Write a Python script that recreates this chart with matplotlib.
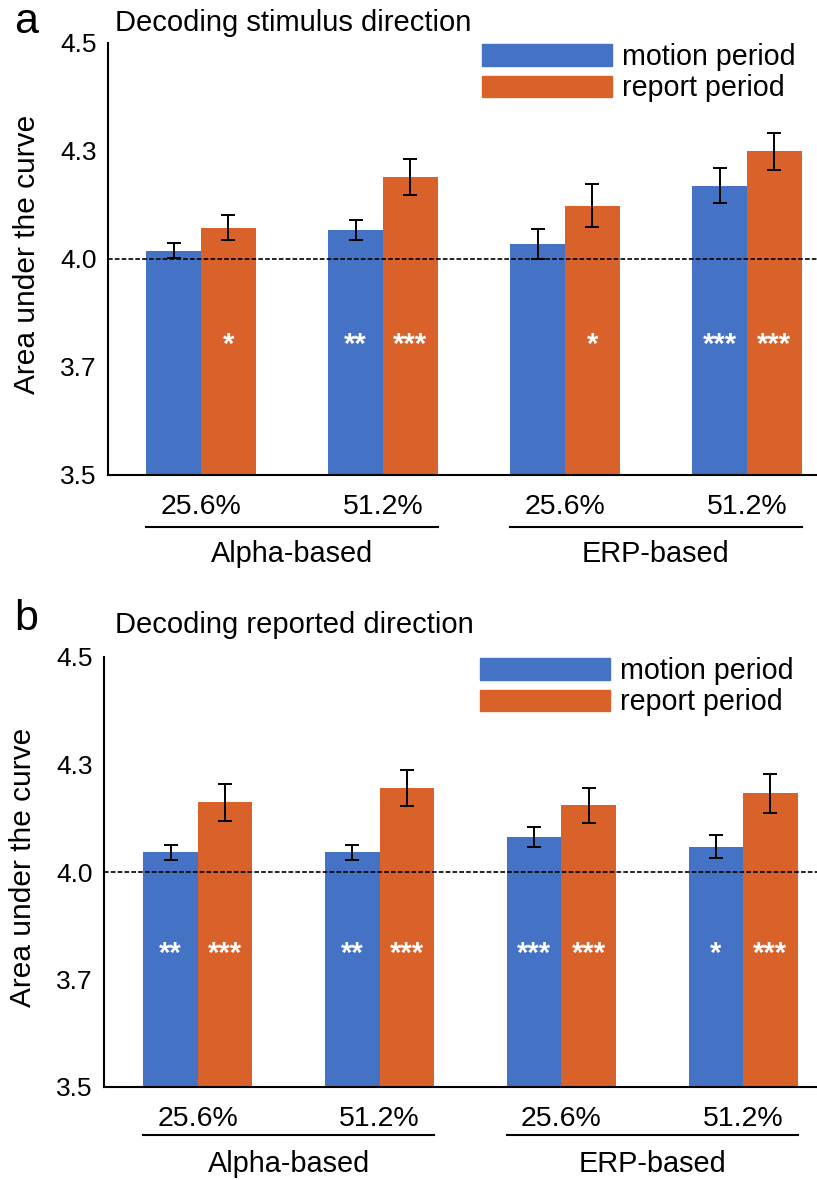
import matplotlib
matplotlib.use("Agg")
import matplotlib.pyplot as plt
import numpy as np
from matplotlib.patches import Patch
from matplotlib.transforms import blended_transform_factory

plt.rcParams["font.family"] = ["Liberation Sans", "DejaVu Sans"]

# data (axis units; ticks at 3.5/3.75/4.0/4.25/4.5 labelled as in the figure)
conditions = ["25.6%", "51.2%", "25.6%", "51.2%"]
families = ["Alpha-based", "ERP-based"]
yticks = [3.5, 3.75, 4.0, 4.25, 4.5]
ytick_labels = ["3.5", "3.7", "4.0", "4.3", "4.5"]
chance = 4.0

stim_motion = [4.019, 4.067, 4.035, 4.170]
stim_motion_err = [0.017, 0.024, 0.035, 0.041]
stim_report = [4.072, 4.190, 4.123, 4.249]
stim_report_err = [0.029, 0.041, 0.050, 0.043]
stim_motion_sig = ["", "**", "", "***"]
stim_report_sig = ["*", "***", "*", "***"]

rep_motion = [4.046, 4.046, 4.082, 4.059]
rep_motion_err = [0.017, 0.017, 0.023, 0.026]
rep_report = [4.162, 4.196, 4.155, 4.183]
rep_report_err = [0.043, 0.042, 0.041, 0.045]
rep_motion_sig = ["**", "**", "***", "*"]
rep_report_sig = ["***", "***", "***", "***"]

BLUE = "#4472C4"
ORANGE = "#D8622A"
W = 0.3


def draw_panel(fig, rect, xlim, letter, letter_y, title, title_y, motion, motion_err, report, report_err,
               motion_sig, report_sig, sig_y, line_y, fam_y):
    ax = fig.add_axes(rect)
    x = np.arange(len(conditions))
    ax.bar(x - W / 2, motion, W, bottom=0, color=BLUE, zorder=2)
    ax.bar(x + W / 2, report, W, bottom=0, color=ORANGE, zorder=2)
    ax.errorbar(x - W / 2, motion, yerr=motion_err, fmt="none", ecolor="black",
                elinewidth=1.4, capsize=4.8, capthick=1.4, zorder=4)
    ax.errorbar(x + W / 2, report, yerr=report_err, fmt="none", ecolor="black",
                elinewidth=1.4, capsize=4.8, capthick=1.4, zorder=4)
    ax.axhline(chance, color="black", lw=1.2, ls=(0, (2.8, 1.3)), zorder=5)

    for xi, s in zip(x - W / 2, motion_sig):
        ax.text(xi, sig_y, s, color="white", ha="center", va="center", fontsize=21, fontweight="bold")
    for xi, s in zip(x + W / 2, report_sig):
        ax.text(xi, sig_y, s, color="white", ha="center", va="center", fontsize=21, fontweight="bold")

    ax.set_ylim(3.5, 4.5)
    ax.set_xlim(*xlim)
    ax.set_yticks(yticks)
    ax.set_yticklabels(ytick_labels)
    ax.set_xticks(x)
    ax.set_xticklabels(conditions)
    ax.tick_params(axis="both", length=0)
    ax.tick_params(axis="y", pad=8, labelsize=19)
    ax.tick_params(axis="x", pad=14, labelsize=20.5)
    for side in ["top", "right"]:
        ax.spines[side].set_visible(False)
    for side in ["left", "bottom"]:
        ax.spines[side].set_linewidth(1.5)
    ax.set_ylabel("Area under the curve", fontsize=21.5)
    ax.yaxis.set_label_coords(-0.094, 0.51)

    # family underline + label
    trans = blended_transform_factory(ax.transData, ax.transAxes)
    for i, fam in enumerate(families):
        x0 = x[2 * i] - W
        x1 = x[2 * i + 1] + W
        ax.plot([x0, x1], [line_y, line_y], color="black", lw=1.5, transform=trans, clip_on=False)
        ax.text((x0 + x1) / 2, fam_y, fam, transform=trans, ha="center", va="baseline", fontsize=20.8)

    handles = [Patch(color=BLUE, label="motion period"), Patch(color=ORANGE, label="report period")]
    ax.legend(handles=handles, loc="upper left", bbox_to_anchor=(0.527, 1.0), frameon=False,
              fontsize=20.6, handlelength=4.55, handleheight=0.8, handletextpad=0.35,
              labelspacing=0.12, borderpad=0, borderaxespad=0)

    fig.text(14 / 817, letter_y, letter, fontsize=31, va="baseline", ha="left")
    fig.text(115 / 817, title_y, title, fontsize=21, va="baseline", ha="left")
    return ax


fig = plt.figure(figsize=(8.17, 11.8), dpi=100)

draw_panel(fig, [108 / 817, 1 - 475 / 1180, 709 / 817, 432 / 1180], (-0.511, 3.385),
           "a", 1 - 33 / 1180, "Decoding stimulus direction", 1 - 31 / 1180,
           stim_motion, stim_motion_err, stim_report, stim_report_err,
           stim_motion_sig, stim_report_sig, 3.80, -0.120, -0.202)

draw_panel(fig, [104 / 817, 1 - 1087 / 1180, 713 / 817, 430 / 1180], (-0.517, 3.407),
           "b", 1 - 630 / 1180, "Decoding reported direction", 1 - 633 / 1180,
           rep_motion, rep_motion_err, rep_report, rep_report_err,
           rep_motion_sig, rep_report_sig, 3.81, -0.112, -0.198)

fig.savefig("out.png", dpi=100)
